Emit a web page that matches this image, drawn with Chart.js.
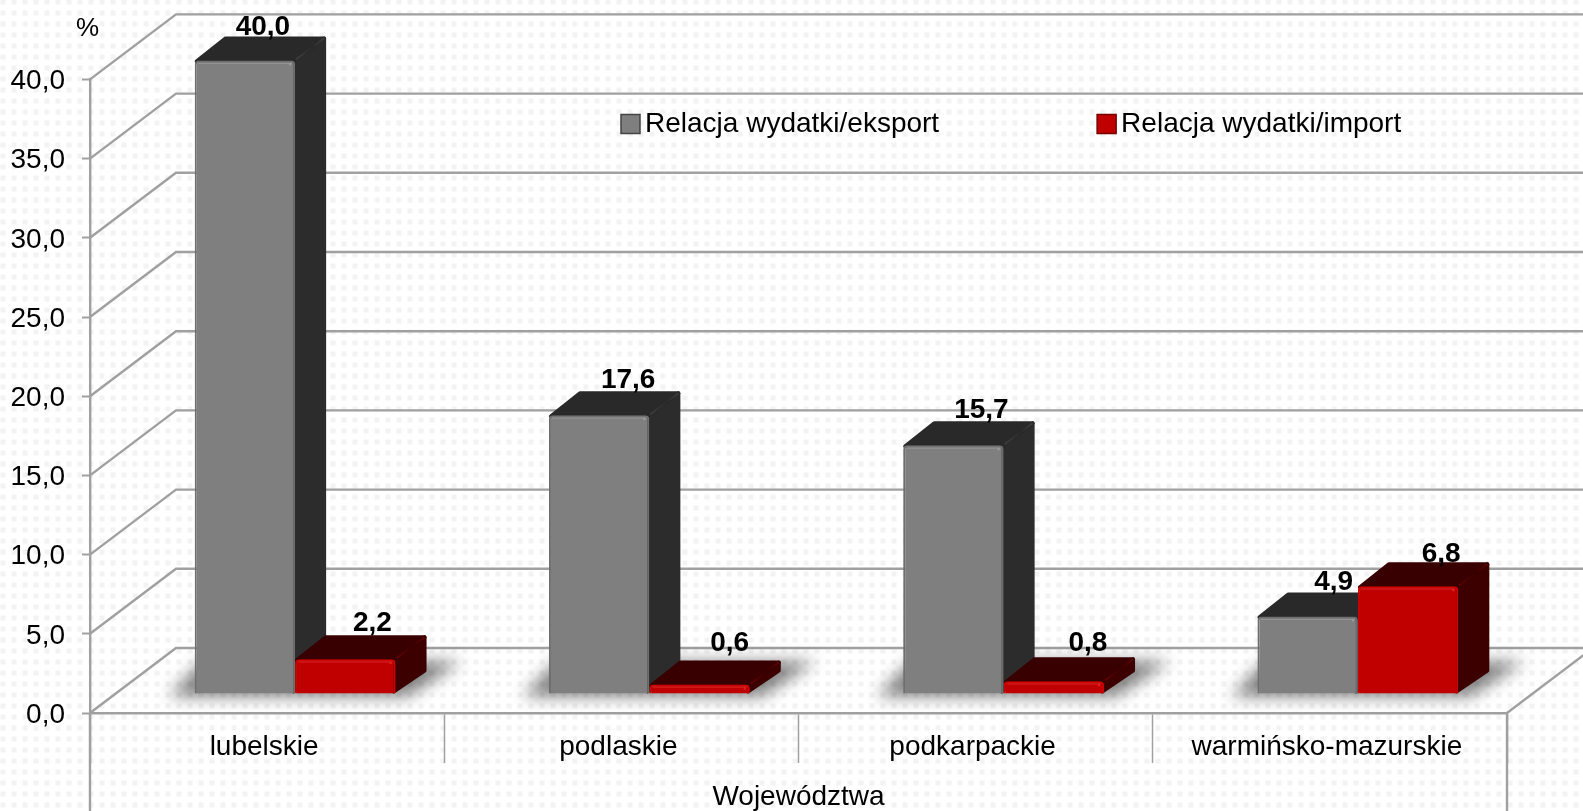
<!DOCTYPE html>
<html lang="pl">
<head>
<meta charset="utf-8">
<style>
html,body{margin:0;padding:0;background:#fff;overflow:hidden}
#wrap{width:1583px;height:811px;position:relative}
</style>
<script src="https://cdn.jsdelivr.net/npm/chart.js@4/dist/chart.umd.js"></script>
</head>
<body>
<div id="wrap"><canvas id="c" width="1583" height="811"></canvas></div>
<script>
const categories = ['lubelskie','podlaskie','podkarpackie','warmińsko-mazurskie'];
const eksport = [40.0,17.6,15.7,4.9];
const importy = [2.2,0.6,0.8,6.8];
const seriesNames = ['Relacja wydatki/eksport','Relacja wydatki/import'];
const yTicks = [0,5,10,15,20,25,30,35,40];
const xTitle = 'Województwa';
const yUnit = '%';

const FONT = '"Liberation Sans", Arial, sans-serif';
const LINE = '#a0a0a0';
const comma = v => v.toFixed(1).replace('.',',');

// 3D projection constants
const WALL = {dx:86, dy:65};       // floor depth
const PLANE = {dx:28, dy:-19};     // offset of bar front plane
const DEPTH = {dx:29, dy:-22};     // bar depth
const labelNudgeX = [[-9,2,1,-1],[0,3,7,6]];
const labelNudgeY = [[2,0,0,1],[-1,-6,-3,3]];

const FACES = [
  {side:'#2c2c2c', top:'#292929', rim:'#3f3f3f', hi:'#a8a8a8', bevel:'rgba(255,255,255,0.16)'},
  {side:'#3c0000', top:'#380000', rim:'#620000', hi:'#f03030', bevel:'rgba(255,60,60,0.35)'}
];

function polygon(ctx, pts){
  ctx.beginPath();
  pts.forEach((p,i)=> i?ctx.lineTo(p[0],p[1]):ctx.moveTo(p[0],p[1]));
  ctx.closePath();
}

const scene = {
  id:'scene',
  beforeLayout(chart){
    const lg = chart.legend;
    if(lg && !lg._patched){
      const f = lg.fit;
      lg.fit = function(){ f.call(this); this.height = 0; };
      lg._patched = true;
    }
  },
  afterLayout(chart){
    const lg = chart.legend;
    const pad = lg.options.labels.padding;
    lg.left = 630 - pad;
    lg.right = 1583;
    lg.width = lg.right - lg.left;
    lg.top = 124 - pad - 14;
    lg.bottom = 400;
  },
  beforeDraw(chart){
    const ctx = chart.ctx;
    const cell = document.createElement('canvas');
    cell.width = 11; cell.height = 11;
    const g = cell.getContext('2d');
    g.fillStyle = '#fff'; g.fillRect(0,0,11,11);
    g.filter = 'blur(0.7px)';
    g.fillStyle = '#f3f3f3'; g.fillRect(0.5,0.5,5,5);
    ctx.save();
    ctx.translate(0,-1);
    ctx.fillStyle = ctx.createPattern(cell,'repeat');
    ctx.fillRect(0,0,1583,813);
    ctx.restore();
  },
  beforeDatasetsDraw(chart){
    const ctx = chart.ctx, x = chart.scales.x, y = chart.scales.y;
    ctx.save();
    // walls, floor
    ctx.strokeStyle = LINE; ctx.lineWidth = 2.4;
    y.ticks.forEach(t=>{
      const py = y.getPixelForValue(t.value), lx = x.left;
      ctx.beginPath();
      ctx.moveTo(lx,py);
      ctx.lineTo(lx+WALL.dx,py-WALL.dy);
      ctx.lineTo(chart.width,py-WALL.dy);
      ctx.stroke();
    });
    const fy = y.getPixelForValue(0);
    ctx.beginPath();
    ctx.moveTo(x.right,fy); ctx.lineTo(x.right+WALL.dx,fy-WALL.dy); ctx.stroke();
    // outer verticals of category band
    ctx.beginPath();
    ctx.moveTo(x.left,fy); ctx.lineTo(x.left,chart.height);
    ctx.moveTo(x.right,fy); ctx.lineTo(x.right,chart.height);
    ctx.stroke();
    // "%" unit
    ctx.fillStyle = '#000'; ctx.font = '26px '+FONT;
    ctx.textAlign = 'left'; ctx.textBaseline = 'middle';
    ctx.fillText(yUnit,76,29);

    ctx.translate(PLANE.dx,PLANE.dy);
    // floor shadows
    const m0 = chart.getDatasetMeta(0).data, m1 = chart.getDatasetMeta(1).data;
    ctx.save();
    ctx.filter = 'blur(8px)';
    ctx.fillStyle = 'rgba(0,0,0,0.5)';
    m0.forEach((b,i)=>{
      const l = b.x-b.width/2, r = m1[i].x+m1[i].width/2, by = b.base;
      polygon(ctx,[[l-26,by+3],[r+12,by+3],[r+66,by-32],[l+8,by-32]]);
      ctx.fill();
    });
    ctx.restore();
    // bar sides and tops
    [m0,m1].forEach((els,k)=>{
      const c = FACES[k];
      els.forEach(b=>{
        const l = b.x-b.width/2, r = b.x+b.width/2, t = b.y, by = b.base;
        ctx.lineJoin = 'round'; ctx.lineWidth = 4;
        polygon(ctx,[[r-2,by-2],[r+DEPTH.dx,by-1+DEPTH.dy],[r+DEPTH.dx,t+DEPTH.dy],[r-2,t+1]]);
        ctx.fillStyle = c.side; ctx.strokeStyle = c.side; ctx.fill(); ctx.stroke();
        polygon(ctx,[[l+2,t+1],[r-2,t+1],[r+DEPTH.dx,t+DEPTH.dy],[l+2+DEPTH.dx,t+DEPTH.dy]]);
        ctx.fillStyle = c.top; ctx.strokeStyle = c.top; ctx.fill(); ctx.stroke();
        // soft lighter rim along the side/top junction
        const grad = ctx.createLinearGradient(r,t,r+DEPTH.dx,t+DEPTH.dy);
        grad.addColorStop(0,c.rim); grad.addColorStop(.6,c.top); grad.addColorStop(1,c.rim);
        ctx.lineWidth = 2; ctx.strokeStyle = grad;
        ctx.beginPath();
        ctx.moveTo(r+1,t-1); ctx.lineTo(r+DEPTH.dx,t+DEPTH.dy);
        ctx.stroke();
      });
    });
    ctx.restore();
    ctx.save();
    ctx.translate(PLANE.dx,PLANE.dy);
  },
  afterDatasetsDraw(chart){
    const ctx = chart.ctx;
    // bevel strip and small glint on each front face
    [0,1].forEach(k=>{
      chart.getDatasetMeta(k).data.forEach(b=>{
        const l = b.x-b.width/2, r = b.x+b.width/2, t = b.y;
        ctx.strokeStyle = FACES[k].bevel;
        ctx.lineWidth = 2;
        ctx.beginPath();
        ctx.moveTo(l+3,t+2.5); ctx.lineTo(r-3,t+2.5);
        ctx.stroke();
        ctx.fillStyle = FACES[k].hi;
        ctx.globalAlpha = .7;
        ctx.fillRect(r-6,t+3,2,2);
        ctx.globalAlpha = 1;
      });
    });
    ctx.restore();
    // value labels
    ctx.save();
    ctx.fillStyle = '#000';
    ctx.font = 'bold 28px '+FONT;
    ctx.textAlign = 'center'; ctx.textBaseline = 'middle';
    chart.data.datasets.forEach((ds,k)=>{
      chart.getDatasetMeta(k).data.forEach((b,i)=>{
        ctx.fillText(comma(ds.data[i]),
          b.x+PLANE.dx+27+labelNudgeX[k][i],
          b.y+PLANE.dy-35+labelNudgeY[k][i]);
      });
    });
    ctx.restore();
  }
};

new Chart(document.getElementById('c').getContext('2d'),{
  type:'bar',
  plugins:[scene],
  data:{
    labels:categories,
    datasets:[
      {label:seriesNames[0],data:eksport,backgroundColor:'#7f7f7f',borderColor:'#6e6e6e',borderWidth:2,borderRadius:4,clip:false,
       categoryPercentage:0.567,barPercentage:1},
      {label:seriesNames[1],data:importy,backgroundColor:'#c00000',borderColor:'#d00000',borderWidth:2,borderRadius:4,clip:false,
       categoryPercentage:0.567,barPercentage:1}
    ]
  },
  options:{
    responsive:false,
    animation:false,
    events:[],
    layout:{padding:{left:0,top:79.4,right:76,bottom:0}},
    plugins:{
      tooltip:{enabled:false},
      title:{display:false},
      legend:{
        display:true,
        position:'top',
        align:'start',
        fullSize:true,
        labels:{
          usePointStyle:true,
          pointStyle:'rect',
          boxWidth:1,
          boxHeight:19,
          padding:167,
          color:'#000',
          font:{family:FONT,size:28},
          generateLabels(chart){
            return chart.data.datasets.map((d,i)=>({
              text:d.label,
              fillStyle:d.backgroundColor,
              strokeStyle:i?'#7a0000':'#444444',
              lineWidth:1.5,
              pointStyle:'rect',
              datasetIndex:i,
              fontColor:'#000'
            }));
          }
        }
      }
    },
    scales:{
      x:{
        type:'category',
        offset:true,
        afterFit(s){ s.height = 98; },
        border:{display:true,color:LINE,width:2.4},
        grid:{display:true,offset:true,drawOnChartArea:false,drawTicks:true,tickLength:50,tickWidth:1.5,tickColor:LINE,color:LINE},
        ticks:{color:'#000',font:{family:FONT,size:28},padding:-33,labelOffset:-3,maxRotation:0,autoSkip:false},
        title:{display:true,text:xTitle,color:'#000',font:{family:FONT,size:28},padding:{top:0,bottom:-3}}
      },
      y:{
        min:0,max:40,
        afterFit(s){ s.width = 90; },
        afterBuildTicks(s){ s.ticks = yTicks.map(v=>({value:v})); },
        border:{display:true,color:LINE,width:2.4},
        grid:{display:true,drawOnChartArea:false,drawTicks:true,tickLength:8,tickColor:LINE,tickWidth:2,color:LINE},
        ticks:{color:'#000',font:{family:FONT,size:28},padding:17,labelOffset:2,callback:v=>comma(v)}
      }
    }
  }
});
</script>
</body>
</html>
